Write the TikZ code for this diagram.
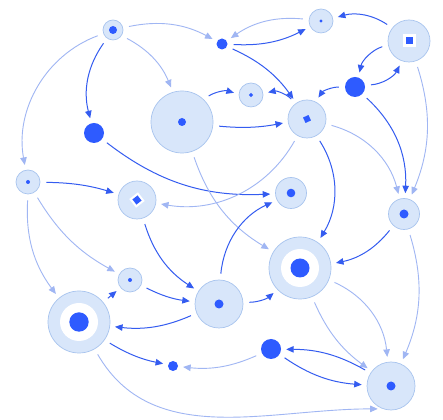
\documentclass[tikz,border=0pt]{standalone}
\usetikzlibrary{arrows.meta}
\definecolor{dblue}{RGB}{46,91,255}
\definecolor{dedge}{RGB}{52,92,240}
\definecolor{ledge}{RGB}{160,182,243}
\definecolor{nfill}{RGB}{216,230,250}
\definecolor{nstroke}{RGB}{168,196,238}
\tikzset{
  nd/.style={circle, fill=nfill, draw=nstroke, line width=0.7pt, inner sep=0pt},
  dotn/.style={circle, fill=dblue, inner sep=0pt},
  sq/.style={rectangle, inner sep=0pt},
  dk/.style={draw=dedge, line width=1pt, -{Triangle[length=7.5pt,width=6.5pt]}, shorten <=6pt, shorten >=5pt},
  lt/.style={draw=ledge, line width=0.9pt, -{Triangle[length=7.5pt,width=6.5pt]}, shorten <=6pt, shorten >=5pt}
}
\begin{document}
\begin{tikzpicture}[x=1pt,y=1pt]
\useasboundingbox[fill=white] (0,0) rectangle (443,419);
% outer nodes
\node[nd, minimum size=20pt] (A) at (113,389) {};
\node[dotn, minimum size=11pt] (B) at (222,375) {};
\node[nd, minimum size=24pt] (C) at (321,398) {};
\node[nd, minimum size=42pt] (D) at (409,378) {};
\node[dotn, minimum size=20pt] (E) at (355,332) {};
\node[nd, minimum size=62pt] (F) at (182,297) {};
\node[nd, minimum size=24pt] (G) at (251,324) {};
\node[nd, minimum size=38pt] (H) at (307,300) {};
\node[dotn, minimum size=20pt] (I) at (94,286) {};
\node[nd, minimum size=24pt] (J) at (28,237) {};
\node[nd, minimum size=38pt] (K) at (137,219) {};
\node[nd, minimum size=31pt] (L) at (291,226) {};
\node[nd, minimum size=31pt] (M) at (404,205) {};
\node[nd, minimum size=24pt] (N) at (130,139) {};
\node[nd, minimum size=48pt] (O) at (219,115) {};
\node[nd, minimum size=62pt] (P) at (300,151) {};
\node[nd, minimum size=62pt] (Q) at (79,97) {};
\node[dotn, minimum size=10pt] (R) at (173,53) {};
\node[dotn, minimum size=20pt] (S) at (271,70) {};
\node[nd, minimum size=48pt] (T) at (391,33) {};
% inner marks
\node[dotn, minimum size=8pt] (Ad) at (A) {};
\node[dotn, minimum size=3.4pt] (Cd) at (C) {};
\node[sq, fill=white, minimum size=13pt] (Dw) at (D) {};
\node[sq, fill=dblue, minimum size=7pt] (Dd) at (D) {};
\node[dotn, minimum size=8pt] (Fd) at (F) {};
\node[sq, fill=dblue, minimum size=3pt, rotate=45] (Gd) at (G) {};
\node[sq, fill=dblue, minimum size=6pt, rotate=25] (Hd) at (H) {};
\node[dotn, minimum size=4pt] (Jd) at (J) {};
\node[sq, fill=white, minimum size=11pt, rotate=38] (Kw) at (K) {};
\node[sq, fill=dblue, minimum size=6.5pt, rotate=38] (Kd) at (K) {};
\node[dotn, minimum size=8.6pt] (Ld) at (L) {};
\node[dotn, minimum size=9pt] (Md) at (M) {};
\node[dotn, minimum size=4pt] (Nd) at (N) {};
\node[dotn, minimum size=9pt] (Od) at (O) {};
\node[circle, fill=white, inner sep=0pt, minimum size=38pt] (Pw) at (P) {};
\node[dotn, minimum size=19pt] (Pd) at (P) {};
\node[circle, fill=white, inner sep=0pt, minimum size=38pt] (Qw) at (Q) {};
\node[dotn, minimum size=19.4pt] (Qd) at (Q) {};
\node[dotn, minimum size=9pt] (Td) at (T) {};
% connectors
\draw[lt] (A) to[bend left=20] (B);
\draw[lt] (A) to[bend left=20] (F);
\draw[dk] (A) to[bend right=25] (I);
\draw[lt] (A) to[bend right=40] (J);
\draw[dk] (I) to[bend right=20] (L);
\draw[dk] (J) to[bend left=8] (K);
\draw[lt] (J) to[bend right=15] (N);
\draw[lt] (J) to[bend right=20] (Q);
\draw[lt] (F) to[bend right=20] (P);
\draw[lt] (H) to[bend left=35] (K);
\draw[lt] (C) to[bend right=20] (B);
\draw[dk] (B) to[bend right=15] (C);
\draw[dk] (D) to[bend right=25] (C);
\draw[dk] (D) to[bend right=30] (E);
\draw[dk] (E) to[bend right=30] (D);
\draw[dk] (E) to[bend right=30] (H);
\draw[dk] (E) to[bend left=25] (M);
\draw[lt] (D) to[bend left=20] (M);
\draw[lt] (H) to[bend left=30] (M);
\draw[dk] (B) to[bend left=15] (H);
\draw[dk] (H) to[bend right=30] (G);
\draw[dk] (F) to[bend left=25] (G);
\draw[dk] (F) to[bend right=8] (H);
\draw[dk] (H) to[bend left=32] (P);
\draw[dk] (O) to[bend left=30] (L);
\draw[dk] (M) to[bend left=20] (P);
\draw[lt] (M) to[bend left=20] (T);
\draw[lt] (P) to[bend left=30] (T);
\draw[lt] (P) to[bend right=15] (T);
\draw[dk] (T) to[bend right=15] (S);
\draw[dk] (S) to[bend right=15] (T);
\draw[dk] (O) to[bend right=20] (P);
\draw[lt] (Q) to[out=-60, in=180] (T.-110);
\draw[lt] (S) to[bend left=15] (R);
\draw[dk] (Q) to[bend right=10] (R);
\draw[dk] (O) to[bend left=15] (Q);
\draw[dk] (Q) to (N);
\draw[dk] (N) to[bend right=10] (O);
\draw[dk] (K) to[bend right=20] (O);
\end{tikzpicture}
\end{document}
